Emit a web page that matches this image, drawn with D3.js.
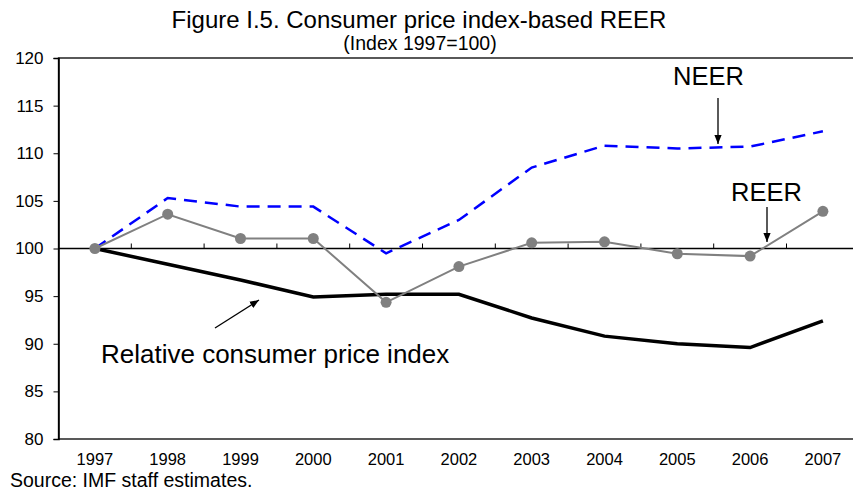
<!DOCTYPE html>
<html>
<head>
<meta charset="utf-8">
<script src="https://cdn.jsdelivr.net/npm/d3@7"></script>
<style>
  body { margin: 0; background: #fff; }
  svg { font-family: "Liberation Sans", Arial, sans-serif; }
</style>
</head>
<body>
<svg id="chart" width="853" height="492"></svg>
<script>
var years = ["1997", "1998", "1999", "2000", "2001", "2002", "2003", "2004", "2005", "2006", "2007"];
var neer = [100, 105.3, 104.4, 104.4, 99.5, 103.0, 108.5, 110.8, 110.5, 110.7, 112.3];
var reer = [100, 103.6, 101.05, 101.05, 94.35, 98.1, 100.6, 100.7, 99.45, 99.2, 103.9];
var cpi = [100, 98.35, 96.7, 94.9, 95.2, 95.2, 92.7, 90.8, 90.0, 89.6, 92.4];
var yTicks = [80, 85, 90, 95, 100, 105, 110, 115, 120];

var svg = d3.select("#chart");

var mLeft = 58.5, mTop = 58, mBottom = 439;
var band = 72.8;
var plotRight = mLeft + band * years.length;

var x = d3
  .scaleBand()
  .domain(years)
  .range([mLeft, plotRight]);

var y = d3
  .scaleLinear()
  .domain([80, 120])
  .range([mBottom, mTop]);

var cx = function(d, i) {
  return x(years[i]) + x.bandwidth() / 2;
};

// title
svg.append("text")
  .attr("x", 419).attr("y", 28)
  .attr("text-anchor", "middle")
  .style("font-size", "24px")
  .text("Figure I.5. Consumer price index-based REER");
svg.append("text")
  .attr("x", 420).attr("y", 50)
  .attr("text-anchor", "middle")
  .style("font-size", "19.5px")
  .text("(Index 1997=100)");

// plot frame
svg.append("rect")
  .attr("x", mLeft).attr("y", mTop)
  .attr("width", plotRight - mLeft).attr("height", mBottom - mTop)
  .attr("fill", "none")
  .attr("stroke", "#000")
  .attr("stroke-width", 1.3);

// y axis
var yAxis = d3.axisLeft(y).tickValues(yTicks).tickSize(5).tickPadding(10);
var gy = svg.append("g")
  .attr("transform", "translate(" + mLeft + ",0)")
  .call(yAxis);
gy.select(".domain").attr("stroke-width", 1.6);
gy.selectAll("text")
  .style("font-size", "17px")
  .style("font-family", "'Liberation Sans', Arial, sans-serif")
  .attr("fill", "#000");

// x axis sitting on the 100 line, ticks up at band edges
var gx = svg.append("g")
  .attr("transform", "translate(0," + y(100) + ")");
gx.append("line")
  .attr("x1", mLeft).attr("x2", plotRight)
  .attr("stroke", "#000").attr("stroke-width", 1.3);
gx.selectAll("line.tick")
  .data(years.slice(1))
  .enter()
  .append("line")
  .attr("class", "tick")
  .attr("x1", d => x(d)).attr("x2", d => x(d))
  .attr("y1", 0).attr("y2", -5)
  .attr("stroke", "#000");

svg.append("g")
  .selectAll("text")
  .data(years)
  .enter()
  .append("text")
  .attr("x", (d, i) => cx(d, i))
  .attr("y", 465)
  .attr("text-anchor", "middle")
  .style("font-size", "16.5px")
  .text(d => d);

var line = d3.line().x(cx).y(d => y(d));

svg.append("path")
  .datum(cpi)
  .attr("d", line)
  .attr("fill", "none")
  .attr("stroke", "#000")
  .attr("stroke-width", 3.5);

svg.append("path")
  .datum(neer)
  .attr("d", line)
  .attr("fill", "none")
  .attr("stroke", "#0000ff")
  .attr("stroke-width", 2.5)
  .attr("stroke-dasharray", "13,8");

svg.append("path")
  .datum(reer)
  .attr("d", line)
  .attr("fill", "none")
  .attr("stroke", "#808080")
  .attr("stroke-width", 2);

svg.append("g")
  .selectAll("circle")
  .data(reer)
  .enter()
  .append("circle")
  .attr("cx", cx)
  .attr("cy", d => y(d))
  .attr("r", 5.5)
  .attr("fill", "#808080");

// annotations
var defs = svg.append("defs");
defs.append("marker")
  .attr("id", "arrow")
  .attr("viewBox", "0 0 10 10")
  .attr("refX", 10).attr("refY", 5)
  .attr("markerWidth", 7).attr("markerHeight", 7)
  .attr("orient", "auto")
  .append("path")
  .attr("d", "M0,1 L10,5 L0,9 Z")
  .attr("fill", "#000");

var arrow = function(x1, y1, x2, y2) {
  svg.append("line")
    .attr("x1", x1).attr("y1", y1)
    .attr("x2", x2).attr("y2", y2)
    .attr("stroke", "#000")
    .attr("stroke-width", 1.3)
    .attr("marker-end", "url(#arrow)");
};

svg.append("text")
  .attr("x", 673).attr("y", 85)
  .style("font-size", "25.5px")
  .text("NEER");
arrow(718, 98, 718, 144);

svg.append("text")
  .attr("x", 731).attr("y", 201)
  .style("font-size", "25.5px")
  .text("REER");
arrow(767, 207, 767, 242);

svg.append("text")
  .attr("x", 101).attr("y", 363)
  .style("font-size", "26px")
  .text("Relative consumer price index");
arrow(215, 328, 259, 300);

svg.append("text")
  .attr("x", 10).attr("y", 487)
  .style("font-size", "19.5px")
  .text("Source: IMF staff estimates.");
</script>
</body>
</html>
